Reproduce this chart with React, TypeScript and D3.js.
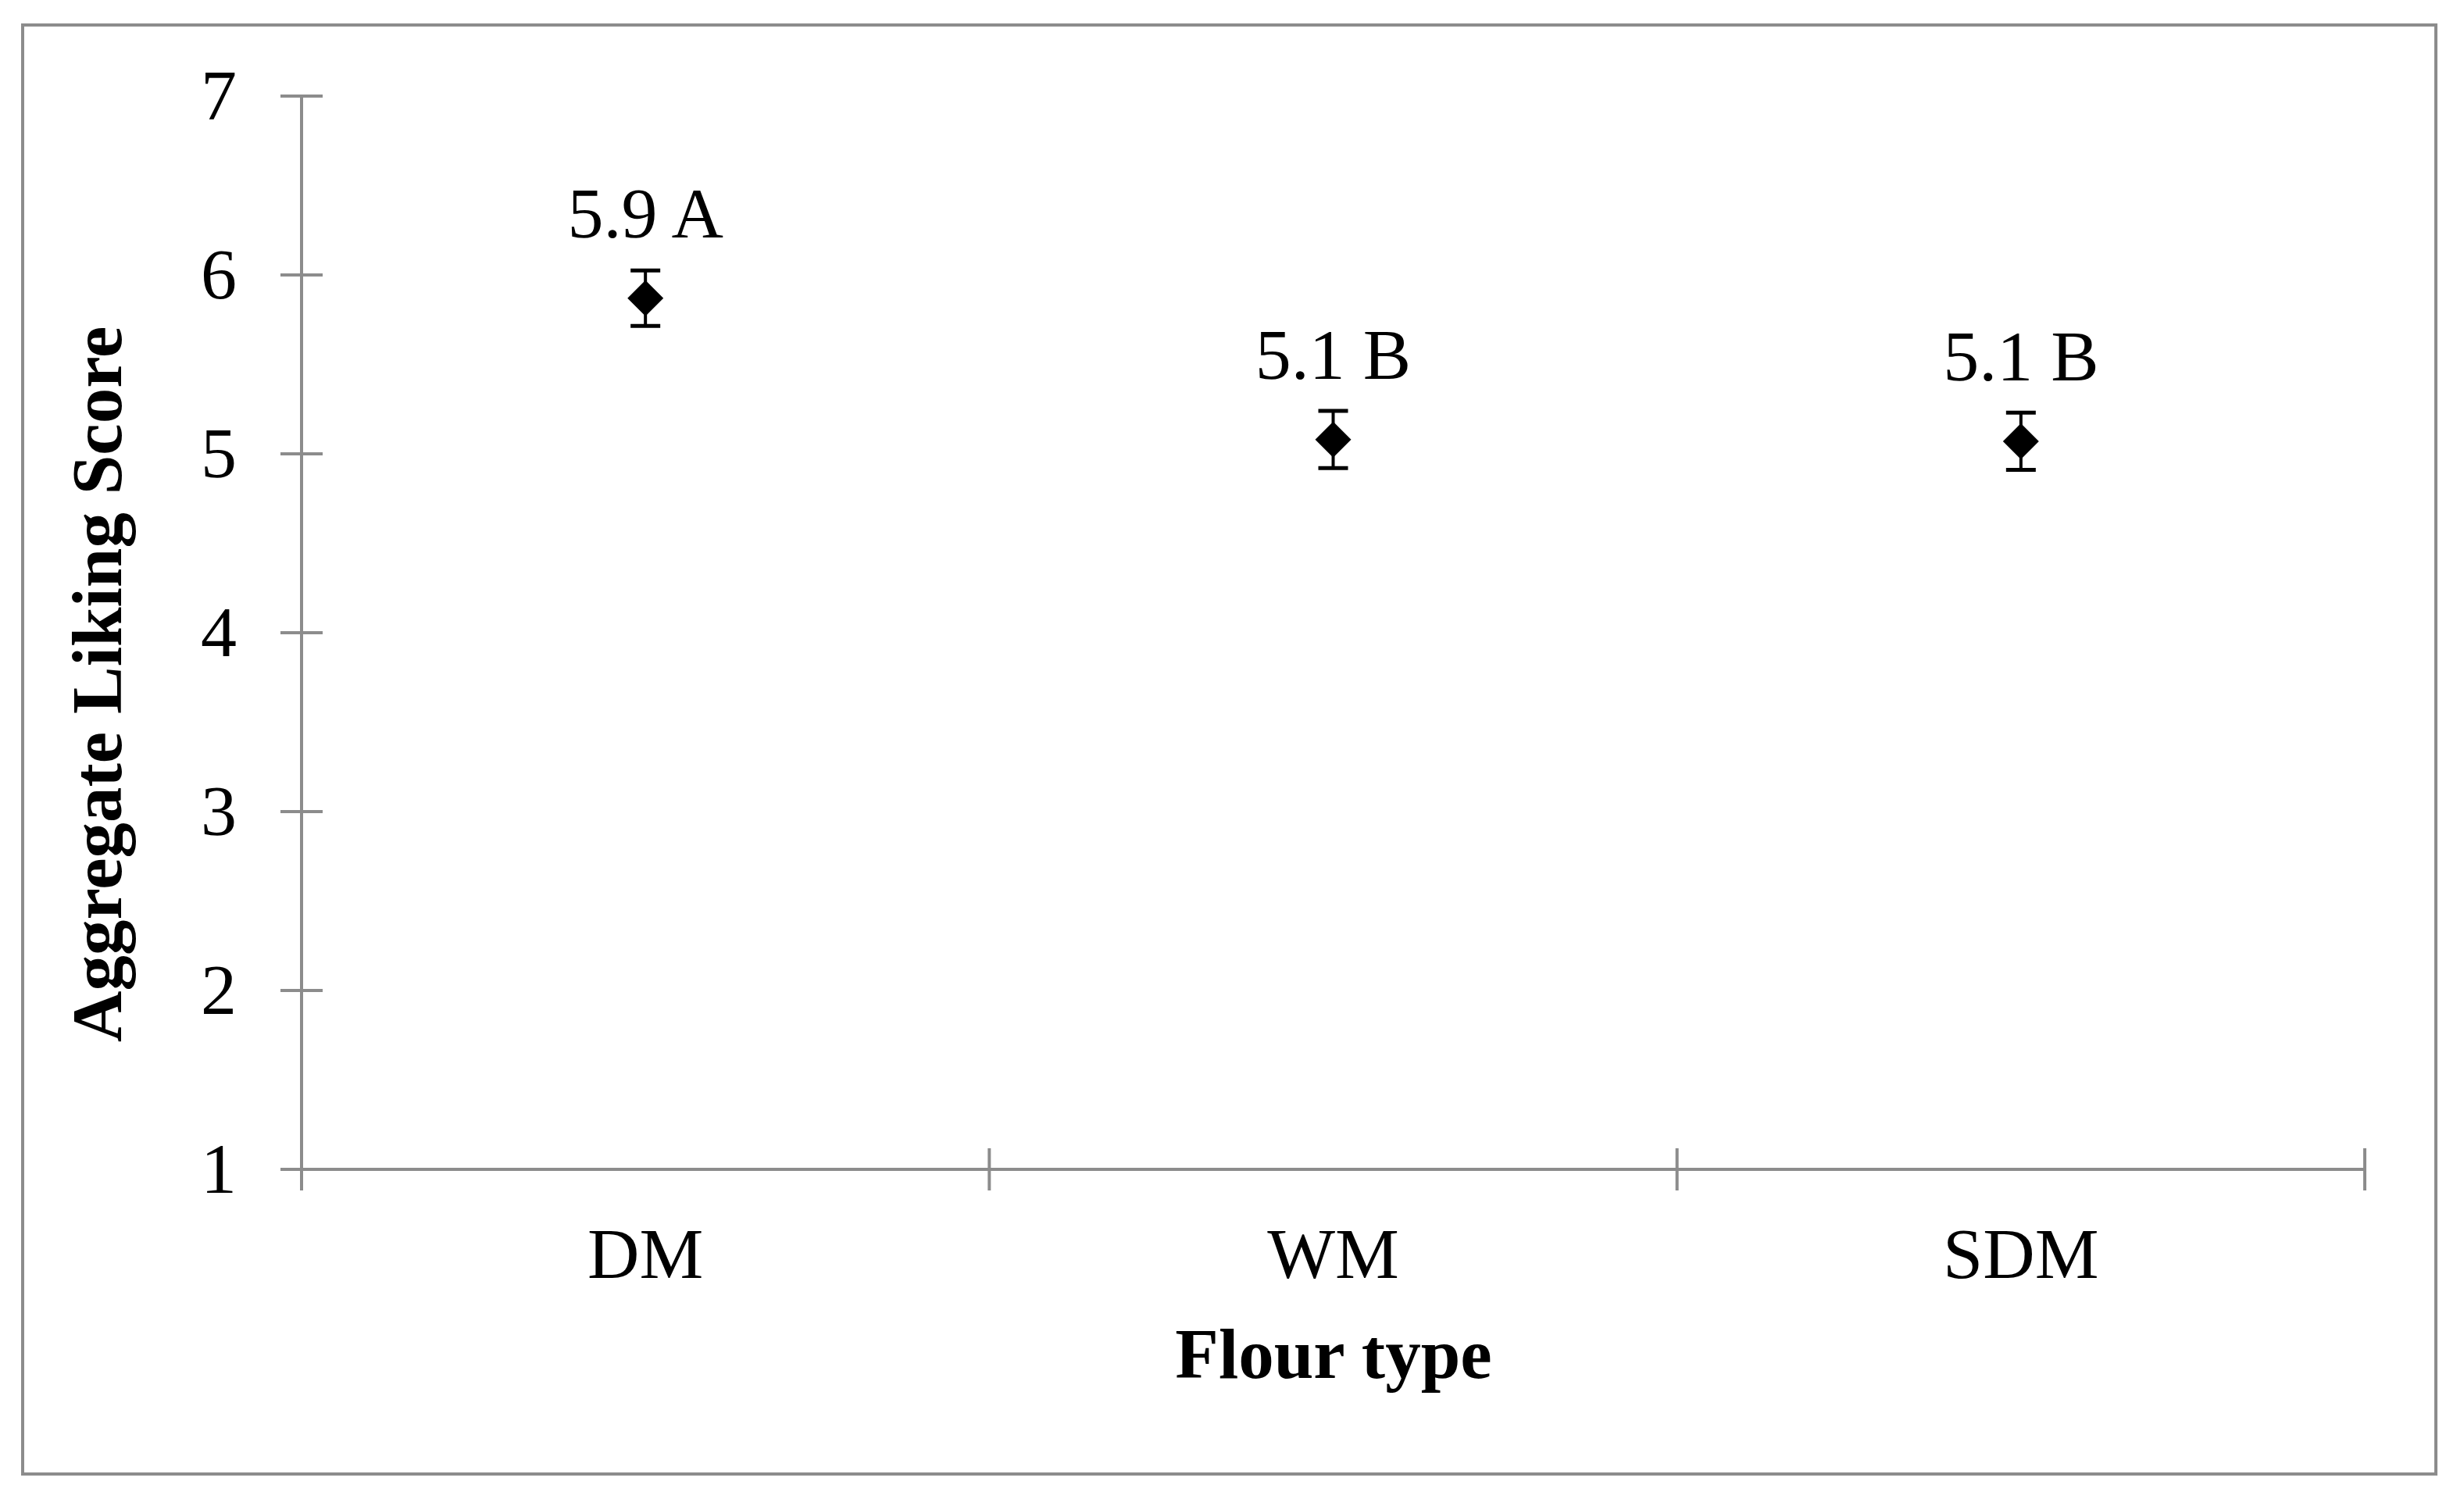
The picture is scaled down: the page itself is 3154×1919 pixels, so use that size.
import { useRef, useEffect } from "react";
import * as d3 from "d3";

const categories = ["DM", "WM", "SDM"];
const means = [5.87, 5.08, 5.07];
const errors = [0.155, 0.16, 0.16];
const labels = ["5.9 A", "5.1 B", "5.1 B"];
const yTicks = [1, 2, 3, 4, 5, 6, 7];

const W = 3154;
const H = 1919;
const AXIS = "#8c8c8c";
const FONT = "'Liberation Serif', 'Times New Roman', serif";

// square diamond marker
const squareDiamond = {
  draw(ctx: any, size: number) {
    const r = Math.sqrt(size) / 2;
    ctx.moveTo(0, -r);
    ctx.lineTo(r, 0);
    ctx.lineTo(0, r);
    ctx.lineTo(-r, 0);
    ctx.closePath();
  },
};

const App = () => {
  const ref = useRef<HTMLDivElement>(null);

  useEffect(() => {
    const el = ref.current;
    if (!el) return;
    d3.select(el).selectAll("*").remove();

    const svg = d3
      .select(el)
      .append("svg")
      .attr("width", W)
      .attr("height", H)
      .style("position", "absolute")
      .style("left", "0px")
      .style("top", "0px")
      .style("background", "#fff");

    // outer frame
    svg
      .append("rect")
      .attr("x", 29)
      .attr("y", 32)
      .attr("width", 3089)
      .attr("height", 1855)
      .attr("fill", "#fff")
      .attr("stroke", AXIS)
      .attr("stroke-width", 4);

    const left = 386;
    const right = 3027;
    const top = 123;
    const bottom = 1497;

    const x = d3.scalePoint<string>().domain(categories).range([left, right]).padding(0.5);
    const step = x.step();
    const y = d3.scaleLinear().domain([1, 7]).range([bottom, top]);

    const g = svg.append("g");

    // y axis
    g.append("line")
      .attr("x1", left).attr("x2", left)
      .attr("y1", y(7)).attr("y2", y(1))
      .attr("stroke", AXIS).attr("stroke-width", 4);
    g.selectAll(".ytick")
      .data(yTicks)
      .enter()
      .append("line")
      .attr("x1", left - 27).attr("x2", left + 27)
      .attr("y1", d => y(d)).attr("y2", d => y(d))
      .attr("stroke", AXIS).attr("stroke-width", 4);
    g.selectAll(".ylab")
      .data(yTicks)
      .enter()
      .append("text")
      .attr("x", 303)
      .attr("y", d => y(d) + 30)
      .attr("text-anchor", "end")
      .attr("font-family", FONT)
      .attr("font-size", 92)
      .attr("fill", "#000")
      .text(d => d);

    // x axis
    g.append("line")
      .attr("x1", left - 27).attr("x2", right)
      .attr("y1", bottom).attr("y2", bottom)
      .attr("stroke", AXIS).attr("stroke-width", 4);
    const bounds = [...categories.map(c => (x(c) as number) - step / 2), right];
    g.selectAll(".xtick")
      .data(bounds)
      .enter()
      .append("line")
      .attr("x1", d => d).attr("x2", d => d)
      .attr("y1", bottom - 27).attr("y2", bottom + 27)
      .attr("stroke", AXIS).attr("stroke-width", 4);
    g.selectAll(".xlab")
      .data(categories)
      .enter()
      .append("text")
      .attr("x", d => x(d) as number)
      .attr("y", 1636)
      .attr("text-anchor", "middle")
      .attr("font-family", FONT)
      .attr("font-size", 92)
      .attr("fill", "#000")
      .text(d => d);

    // axis titles
    svg.append("text")
      .attr("x", 1707)
      .attr("y", 1764)
      .attr("text-anchor", "middle")
      .attr("font-family", FONT)
      .attr("font-weight", "bold")
      .attr("font-size", 91)
      .text("Flour type");
    svg.append("text")
      .attr("transform", "translate(155, 876) rotate(-90)")
      .attr("text-anchor", "middle")
      .attr("font-family", FONT)
      .attr("font-weight", "bold")
      .attr("font-size", 91)
      .text("Aggregate Liking Score");

    // error bars
    const pts = categories.map((c, i) => ({ c, m: means[i], e: errors[i], label: labels[i] }));
    const eb = g.selectAll(".eb").data(pts).enter().append("g");
    eb.append("line")
      .attr("x1", d => x(d.c) as number).attr("x2", d => x(d.c) as number)
      .attr("y1", d => y(d.m + d.e)).attr("y2", d => y(d.m - d.e))
      .attr("stroke", "#000").attr("stroke-width", 4);
    [1, -1].forEach(sgn => {
      eb.append("line")
        .attr("x1", d => (x(d.c) as number) - 19).attr("x2", d => (x(d.c) as number) + 19)
        .attr("y1", d => y(d.m + sgn * d.e)).attr("y2", d => y(d.m + sgn * d.e))
        .attr("stroke", "#000").attr("stroke-width", 5);
    });

    // markers
    const sym = d3.symbol().type(squareDiamond as any).size(46 * 46);
    g.selectAll(".pt")
      .data(pts)
      .enter()
      .append("path")
      .attr("d", sym() as string)
      .attr("transform", d => `translate(${x(d.c)}, ${y(d.m)})`)
      .attr("fill", "#000");

    // data labels
    g.selectAll(".dl")
      .data(pts)
      .enter()
      .append("text")
      .attr("x", d => x(d.c) as number)
      .attr("y", d => y(d.m) - 78)
      .attr("text-anchor", "middle")
      .attr("font-family", FONT)
      .attr("font-size", 92)
      .attr("fill", "#000")
      .text(d => d.label);

    return () => {
      d3.select(el).selectAll("*").remove();
    };
  }, []);

  return <div ref={ref}></div>;
};

export default App;
